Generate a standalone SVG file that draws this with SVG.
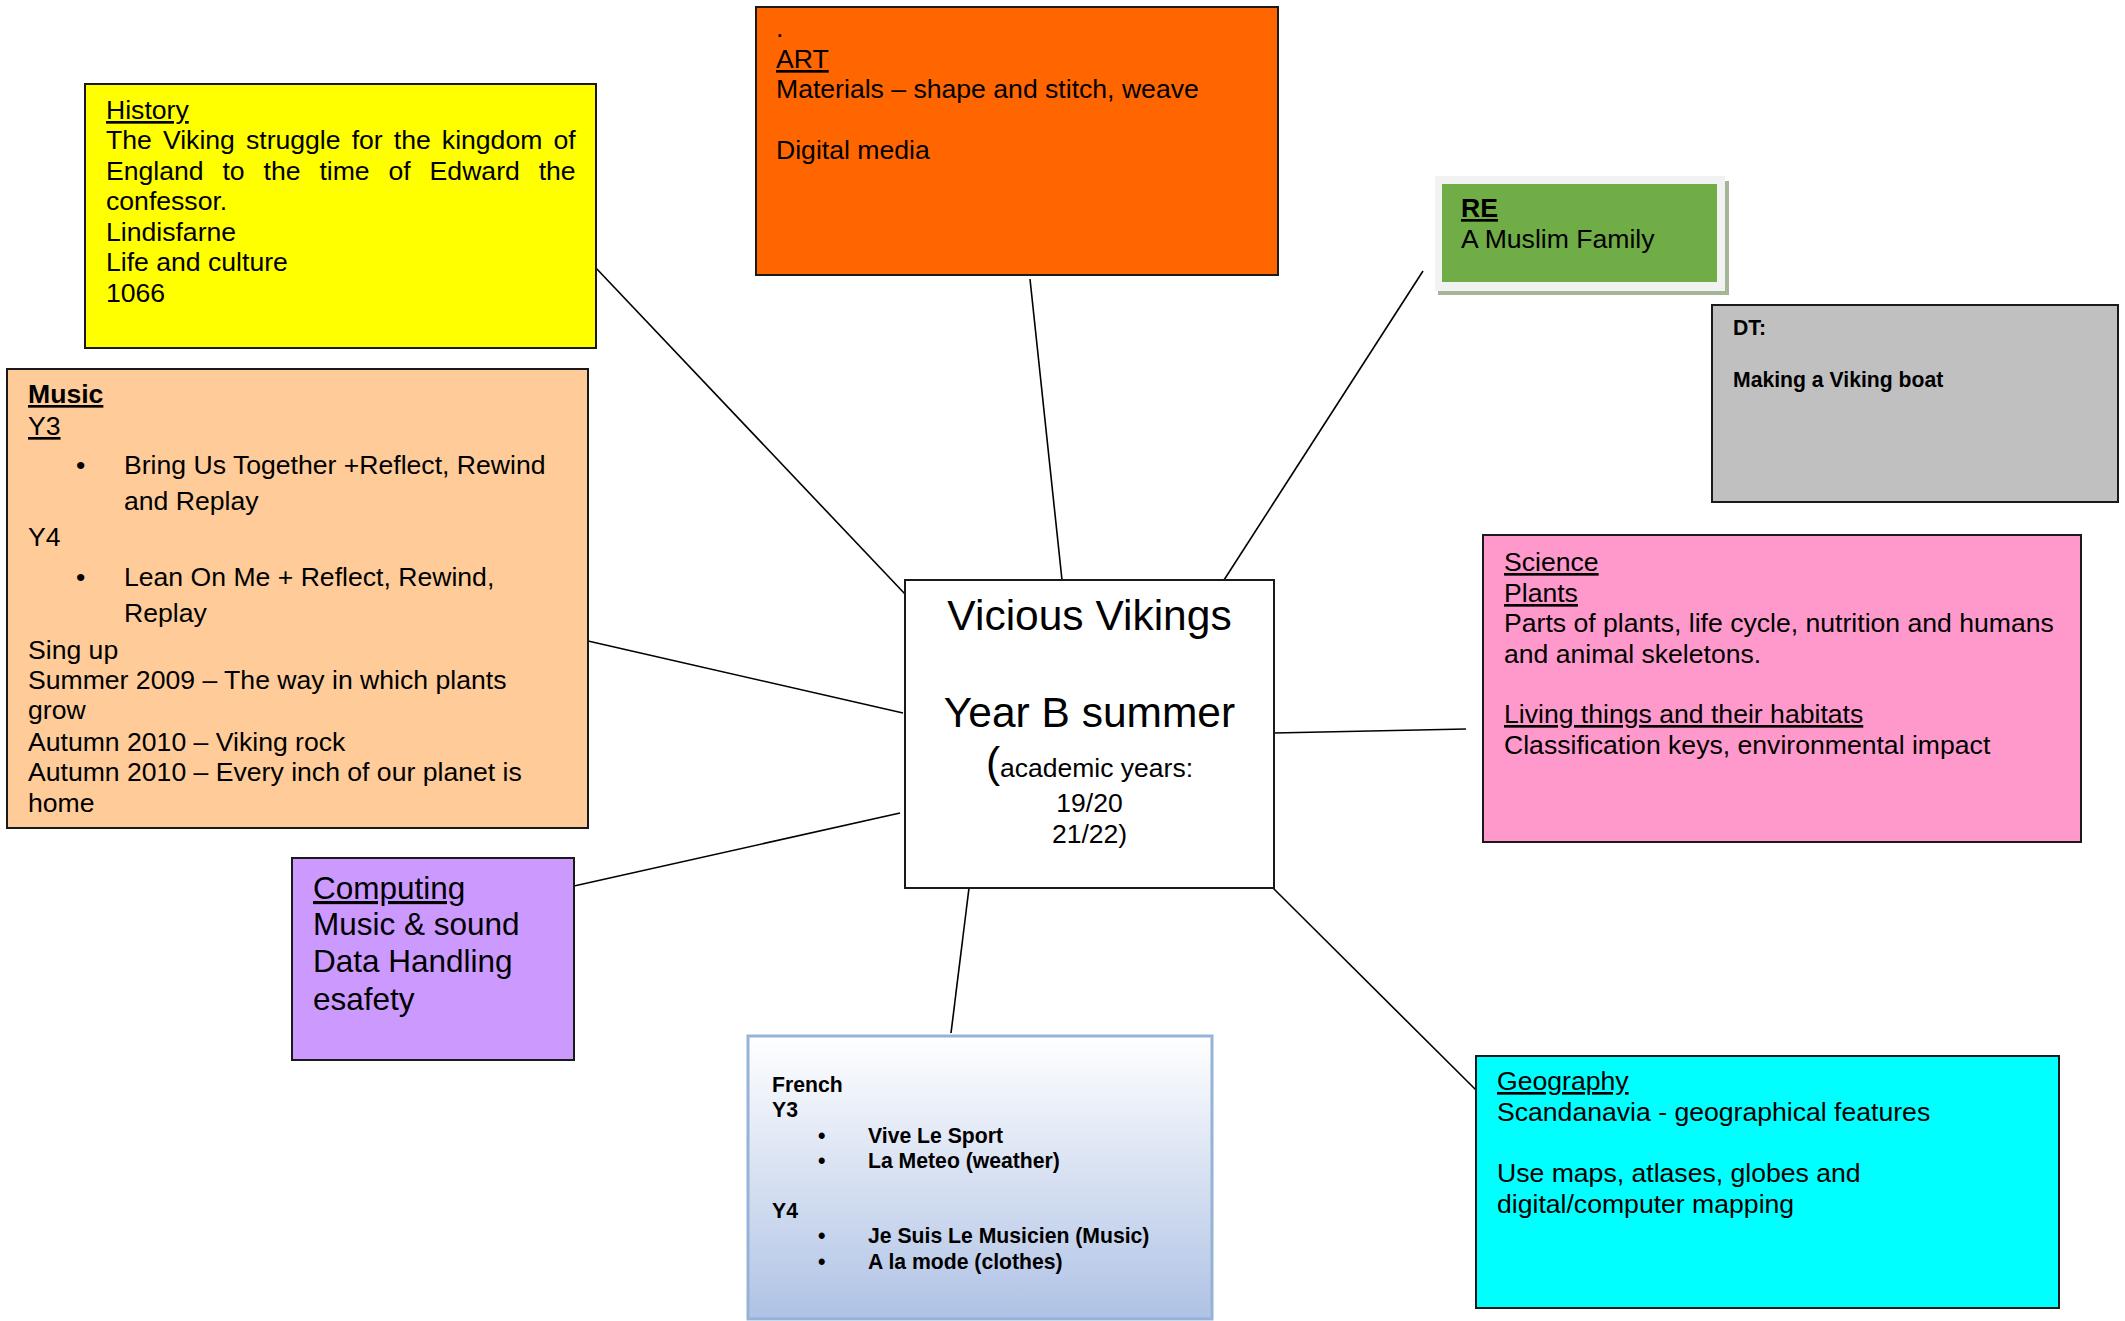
<svg xmlns="http://www.w3.org/2000/svg" width="2125" height="1321" viewBox="0 0 2125 1321">
<style>
text{font-family:"Liberation Sans",Arial,sans-serif;fill:#000}
.t{font-size:26.6px}
.s{font-size:21.2px;font-weight:bold}
.b{font-weight:bold}
.u{text-decoration:underline}
.box{stroke:#1a1a1a;stroke-width:2}
.conn line{stroke:#000;stroke-width:1.6}
</style>
<defs>
<linearGradient id="fr" x1="0" y1="0" x2="0" y2="1">
<stop offset="0" stop-color="#ffffff"/>
<stop offset="1" stop-color="#afc2e5"/>
</linearGradient>
</defs>
<rect width="2125" height="1321" fill="#fff"/>
<g id="connectors" class="conn">
<line x1="595" y1="267" x2="905" y2="594"/>
<line x1="1030" y1="279" x2="1062" y2="580"/>
<line x1="1423" y1="271" x2="1224" y2="580"/>
<line x1="1274" y1="733" x2="1466" y2="729"/>
<line x1="1273" y1="888" x2="1476" y2="1090"/>
<line x1="969" y1="888" x2="951" y2="1033"/>
<line x1="574" y1="886" x2="900" y2="813"/>
<line x1="588" y1="641" x2="903" y2="713"/>
</g>
<g id="center">
<rect class="box" x="905" y="580" width="369" height="308" fill="#fff"/>
<text x="1089.5" y="630" font-size="42.5" text-anchor="middle">Vicious Vikings</text>
<text x="1089.5" y="727" font-size="42.5" text-anchor="middle">Year B summer</text>
<text x="1089.5" y="777" font-size="26.5" text-anchor="middle"><tspan font-size="42.5">(</tspan>academic years:</text>
<text x="1089.5" y="812" font-size="26.5" text-anchor="middle">19/20</text>
<text x="1089.5" y="843" font-size="26.5" text-anchor="middle">21/22)</text>
</g>
<g id="history">
<rect class="box" x="85" y="84" width="511" height="264" fill="#ffff00"/>
<text class="t" x="106" y="119"><tspan class="u">History</tspan></text>
<text class="t" x="106" y="149" word-spacing="3.7">The Viking struggle for the kingdom of</text>
<text class="t" x="106" y="180" word-spacing="11.5">England to the time of Edward the</text>
<text class="t" x="106" y="210">confessor.</text>
<text class="t" x="106" y="241">Lindisfarne</text>
<text class="t" x="106" y="271">Life and culture</text>
<text class="t" x="106" y="302">1066</text>
</g>
<g id="art">
<rect class="box" x="756" y="7" width="522" height="268" fill="#ff6600"/>
<text class="t" x="776" y="37">.</text>
<text class="t" x="776" y="68"><tspan class="u">ART</tspan></text>
<text class="t" x="776" y="98">Materials – shape and stitch, weave</text>
<text class="t" x="776" y="159">Digital media</text>
</g>
<g id="re">
<rect x="1438" y="181" width="291" height="114" fill="#a4b598"/>
<rect x="1435" y="176" width="290" height="115" fill="#f2f2f2"/>
<rect x="1442" y="184" width="275" height="98" fill="#70ad47"/>
<text class="t b" x="1461" y="217"><tspan class="u">RE</tspan></text>
<text class="t" x="1461" y="248">A Muslim Family</text>
</g>
<g id="dt">
<rect class="box" x="1712" y="305" width="406" height="197" fill="#c0c0c0"/>
<text class="s" x="1733" y="335">DT:</text>
<text class="s" x="1733" y="387">Making a Viking boat</text>
</g>
<g id="music">
<rect class="box" x="7" y="369" width="581" height="459" fill="#ffcc99"/>
<text class="t b" x="28" y="403"><tspan class="u">Music</tspan></text>
<text class="t" x="28" y="435"><tspan class="u">Y3</tspan></text>
<text class="t" x="76" y="474">•</text>
<text class="t" x="124" y="474">Bring Us Together +Reflect, Rewind</text>
<text class="t" x="124" y="510">and Replay</text>
<text class="t" x="28" y="546">Y4</text>
<text class="t" x="76" y="586">•</text>
<text class="t" x="124" y="586">Lean On Me + Reflect, Rewind,</text>
<text class="t" x="124" y="622">Replay</text>
<text class="t" x="28" y="659">Sing up</text>
<text class="t" x="28" y="689">Summer 2009 – The way in which plants</text>
<text class="t" x="28" y="719">grow</text>
<text class="t" x="28" y="751">Autumn 2010 – Viking rock</text>
<text class="t" x="28" y="781">Autumn 2010 – Every inch of our planet is</text>
<text class="t" x="28" y="812">home</text>
</g>
<g id="science">
<rect class="box" x="1483" y="535" width="598" height="307" fill="#ff99cc"/>
<text class="t" x="1504" y="571"><tspan class="u">Science</tspan></text>
<text class="t" x="1504" y="602"><tspan class="u">Plants</tspan></text>
<text class="t" x="1504" y="632">Parts of plants, life cycle, nutrition and humans</text>
<text class="t" x="1504" y="663">and animal skeletons.</text>
<text class="t" x="1504" y="723"><tspan class="u">Living things and their habitats</tspan></text>
<text class="t" x="1504" y="754">Classification keys, environmental impact</text>
</g>
<g id="computing">
<rect class="box" x="292" y="858" width="282" height="202" fill="#cc99ff"/>
<text x="313" y="899" font-size="31.5"><tspan class="u">Computing</tspan></text>
<text x="313" y="935" font-size="31.5">Music &amp; sound</text>
<text x="313" y="972" font-size="31.5">Data Handling</text>
<text x="313" y="1010" font-size="31.5">esafety</text>
</g>
<g id="french">
<rect x="748" y="1036" width="464" height="283" fill="url(#fr)" stroke="#95b3d7" stroke-width="3"/>
<text class="s" x="772" y="1092">French</text>
<text class="s" x="772" y="1117">Y3</text>
<text class="s" x="818" y="1143">•</text>
<text class="s" x="868" y="1143">Vive Le Sport</text>
<text class="s" x="818" y="1168">•</text>
<text class="s" x="868" y="1168">La Meteo (weather)</text>
<text class="s" x="772" y="1218">Y4</text>
<text class="s" x="818" y="1243">•</text>
<text class="s" x="868" y="1243">Je Suis Le Musicien (Music)</text>
<text class="s" x="818" y="1269">•</text>
<text class="s" x="868" y="1269">A la mode (clothes)</text>
</g>
<g id="geography">
<rect class="box" x="1476" y="1056" width="583" height="252" fill="#00ffff"/>
<text class="t" x="1497" y="1090"><tspan class="u">Geography</tspan></text>
<text class="t" x="1497" y="1121">Scandanavia - geographical features</text>
<text class="t" x="1497" y="1182">Use maps, atlases, globes and</text>
<text class="t" x="1497" y="1213">digital/computer mapping</text>
</g>
</svg>
